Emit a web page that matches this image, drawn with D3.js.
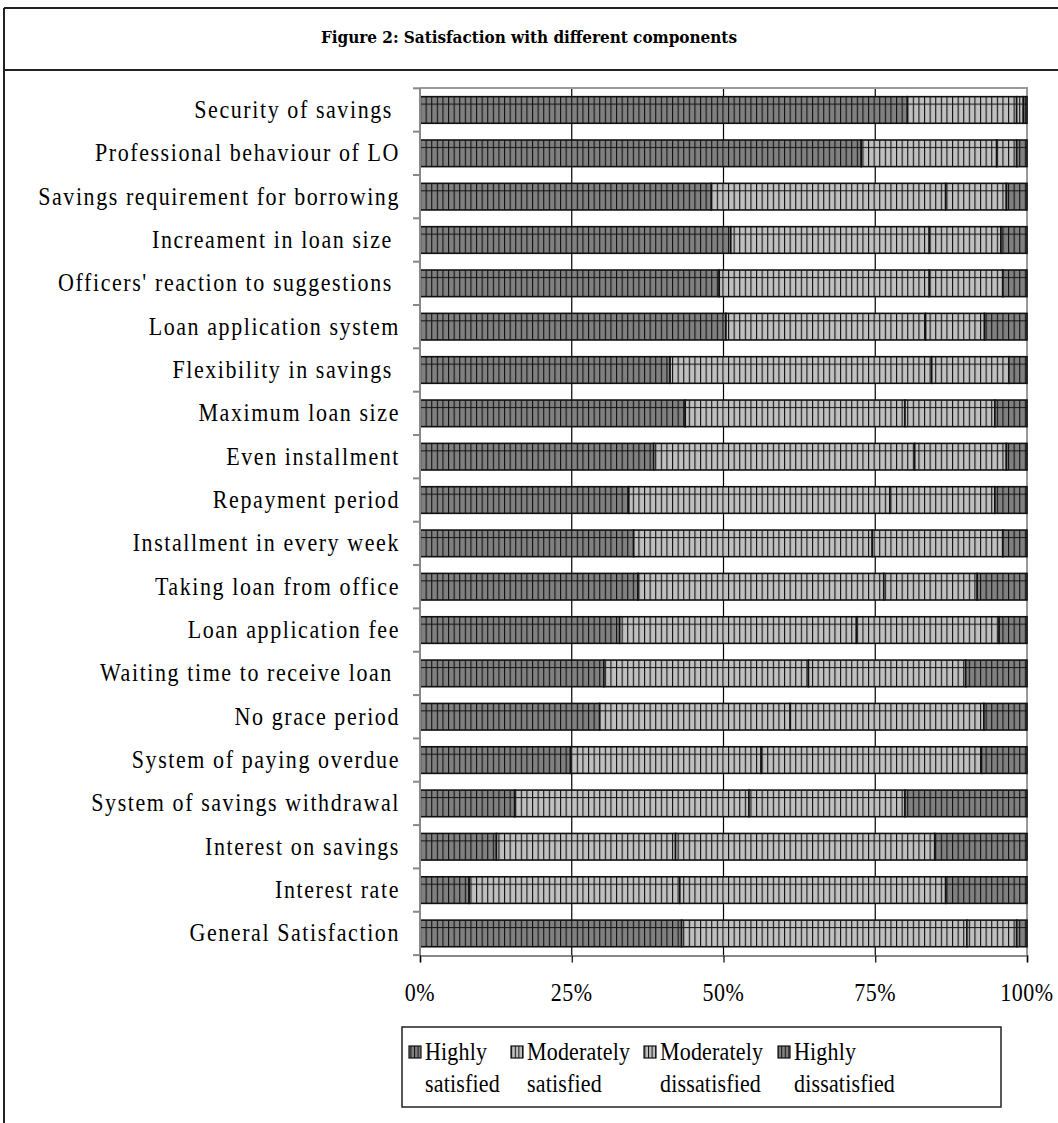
<!DOCTYPE html>
<html>
<head>
<meta charset="utf-8">
<script src="https://cdn.jsdelivr.net/npm/d3@7"></script>
<style>
  html, body { margin: 0; padding: 0; background: #fff; }
  svg { display: block; }
  text { font-family: "Liberation Serif", "Times New Roman", serif; fill: #000; white-space: pre; }
</style>
</head>
<body>
<svg id="chart" width="1058" height="1123"></svg>
<script>
// Components, top to bottom
const categories = [
  "Security of savings ",
  "Professional behaviour of LO",
  "Savings requirement for borrowing",
  "Increament in loan size ",
  "Officers' reaction to suggestions ",
  "Loan application system",
  "Flexibility in savings ",
  "Maximum loan size",
  "Even installment",
  "Repayment period",
  "Installment in every week",
  "Taking loan from office",
  "Loan application fee",
  "Waiting time to receive loan ",
  "No grace period",
  "System of paying overdue",
  "System of savings withdrawal",
  "Interest on savings",
  "Interest rate",
  "General Satisfaction"
];

// Shares of respondents (%)
const highlySatisfied        = [80.3, 72.7, 48.0, 51.2, 49.3, 50.4, 41.2, 43.7, 38.5, 34.4, 35.2, 35.9, 32.9, 30.3, 29.6, 24.8, 15.6, 12.6,  8.1, 43.1];
const moderatelySatisfied    = [18.0, 22.3, 38.6, 32.7, 34.6, 32.9, 43.1, 36.2, 43.0, 43.0, 39.3, 40.5, 39.0, 33.7, 31.4, 31.4, 38.6, 29.5, 34.7, 47.0];
const moderatelyDissatisfied = [ 1.1,  3.3, 10.0, 11.8, 12.1,  9.7, 12.7, 14.8, 15.1, 17.3, 21.5, 15.4, 23.5, 25.9, 31.9, 36.3, 25.7, 42.7, 43.8,  8.2];
const highlyDissatisfied     = [ 0.6,  1.7,  3.4,  4.3,  4.0,  7.0,  3.0,  5.3,  3.4,  5.3,  4.0,  8.2,  4.6, 10.1,  7.1,  7.5, 20.1, 15.2, 13.4,  1.7];

const seriesKeys   = ["hs", "ms", "md", "hd"];
const seriesLabels = [["Highly", "satisfied"], ["Moderately", "satisfied"], ["Moderately", "dissatisfied"], ["Highly", "dissatisfied"]];
const xTickValues  = [0, 25, 50, 75, 100];
const xTickLabels  = ["0%", "25%", "50%", "75%", "100%"];
const titleText    = "Figure 2: Satisfaction with different components";

const svg = d3.select("#chart");
const W = 1058, H = 1123;

const rows = categories.map((c, i) => ({
  cat: c,
  hs: highlySatisfied[i],
  ms: moderatelySatisfied[i],
  md: moderatelyDissatisfied[i],
  hd: highlyDissatisfied[i]
}));

const plot = { left: 420, right: 1027, top: 88, bottom: 955.4 };

const x = d3.scaleLinear().domain([0, 100]).range([plot.left, plot.right]);
const y = d3.scaleBand().domain(categories).range([plot.top, plot.bottom])
  .paddingInner(0.386).paddingOuter(0.2);

const fills = { hs: "#808080", ms: "#c0c0c0", md: "#c0c0c0", hd: "#808080" };

// hatch fills: grey ground, thin black verticals and one horizontal stripe
const defs = svg.append("defs");
seriesKeys.forEach(k => {
  const p = defs.append("pattern")
    .attr("id", "pat-" + k)
    .attr("patternUnits", "userSpaceOnUse")
    .attr("x", plot.left)
    .attr("y", y(categories[0]))
    .attr("width", 5.6)
    .attr("height", y.step());
  p.append("rect").attr("width", 5.6).attr("height", y.step()).attr("fill", fills[k]);
  p.append("rect").attr("x", 0).attr("y", 0).attr("width", 1.1).attr("height", y.step()).attr("fill", "#111");
  p.append("rect").attr("x", 0).attr("y", 7).attr("width", 5.6).attr("height", 1).attr("fill", "#111");

  const s = defs.append("pattern")
    .attr("id", "sw-" + k)
    .attr("patternUnits", "userSpaceOnUse")
    .attr("width", 3.6).attr("height", 12);
  s.append("rect").attr("width", 3.6).attr("height", 12).attr("fill", fills[k]);
  s.append("rect").attr("x", 0).attr("width", 1).attr("height", 12).attr("fill", "#111");
});

// frame of the figure
const frame = svg.append("g").attr("stroke", "#222").attr("stroke-width", 2).attr("fill", "none");
frame.append("line").attr("x1", 4).attr("x2", W).attr("y1", 8).attr("y2", 8);
frame.append("line").attr("x1", 4).attr("x2", W).attr("y1", 70).attr("y2", 70);
frame.append("line").attr("x1", 4).attr("x2", 4).attr("y1", 8).attr("y2", H);

// title
svg.append("text")
  .attr("x", W / 2).attr("y", 43)
  .attr("text-anchor", "middle")
  .attr("textLength", 416)
  .attr("lengthAdjust", "spacing")
  .style("font-family", "'DejaVu Serif', serif")
  .style("font-stretch", "condensed")
  .style("font-weight", "bold")
  .style("font-size", "17px")
  .text(titleText);

// vertical gridlines
svg.append("g")
  .selectAll("line")
  .data(xTickValues.filter(v => v > 0 && v < 100))
  .join("line")
  .attr("x1", d => x(d)).attr("x2", d => x(d))
  .attr("y1", plot.top).attr("y2", plot.bottom)
  .attr("stroke", "#000").attr("stroke-width", 1.2);

// plot border (top / right)
svg.append("path")
  .attr("d", `M${plot.left},${plot.top}H${plot.right}V${plot.bottom}`)
  .attr("fill", "none").attr("stroke", "#999").attr("stroke-width", 2);

// stacked bars
const stack = d3.stack().keys(seriesKeys);
const stacked = stack(rows);

svg.append("g")
  .selectAll("g")
  .data(stacked)
  .join("g")
  .attr("fill", d => `url(#pat-${d.key})`)
  .selectAll("rect")
  .data(d => d)
  .join("rect")
  .attr("x", d => x(d[0]))
  .attr("width", d => x(d[1]) - x(d[0]))
  .attr("y", d => y(d.data.cat))
  .attr("height", y.bandwidth())
  .attr("stroke", "#111")
  .attr("stroke-width", 1.6);

// left axis: grey line, ticks between categories
const bandEdge = i => y(categories[0]) + y.bandwidth() / 2 - y.step() / 2 + i * y.step();
const leftAxis = svg.append("g").attr("stroke", "#888").attr("stroke-width", 2);
leftAxis.append("line").attr("x1", plot.left).attr("x2", plot.left).attr("y1", plot.top).attr("y2", plot.bottom);
leftAxis.selectAll("line.t")
  .data(d3.range(categories.length + 1))
  .join("line").attr("class", "t")
  .attr("x1", plot.left - 7).attr("x2", plot.left)
  .attr("y1", bandEdge)
  .attr("y2", bandEdge);

// category labels
const TX = 0.88; // horizontal squeeze applied to all text
svg.append("g")
  .selectAll("text")
  .data(categories)
  .join("text")
  .attr("transform", d => `translate(400,${y(d) + y.bandwidth() / 2 + 8}) scale(${TX},1)`)
  .attr("text-anchor", "end")
  .style("font-size", "25px")
  .style("letter-spacing", "1.8px")
  .text(d => d);

// bottom axis
const xAxis = d3.axisBottom(x).tickValues(xTickValues).tickSize(7).tickFormat("");
const gx = svg.append("g").attr("transform", `translate(0,${plot.bottom})`).call(xAxis);
gx.select(".domain").attr("stroke", "#888").attr("stroke-width", 2);
gx.selectAll(".tick line").attr("stroke", "#000").attr("stroke-width", 1.2);

svg.append("g")
  .selectAll("text")
  .data(xTickValues)
  .join("text")
  .attr("transform", d => `translate(${x(d)},1001) scale(${TX},1)`)
  .attr("text-anchor", "middle")
  .style("font-size", "25px")
  .style("letter-spacing", "0.6px")
  .text((d, i) => xTickLabels[i]);

// legend
const legend = svg.append("g");
legend.append("rect")
  .attr("x", 402).attr("y", 1027).attr("width", 599).attr("height", 80)
  .attr("fill", "#fff").attr("stroke", "#222").attr("stroke-width", 1.5);

const legendX = [409, 511, 644, 778];
seriesKeys.forEach((k, i) => {
  legend.append("rect")
    .attr("x", legendX[i]).attr("y", 1046).attr("width", 12).attr("height", 12)
    .attr("fill", `url(#sw-${k})`).attr("stroke", "#111").attr("stroke-width", 1.2);
  seriesLabels[i].forEach((line, j) => {
    legend.append("text")
      .attr("transform", `translate(${legendX[i] + 16},${1060 + j * 32}) scale(${TX},1)`)
      .style("font-size", "25px")
      .style("letter-spacing", "0.2px")
      .text(line);
  });
});
</script>
</body>
</html>
